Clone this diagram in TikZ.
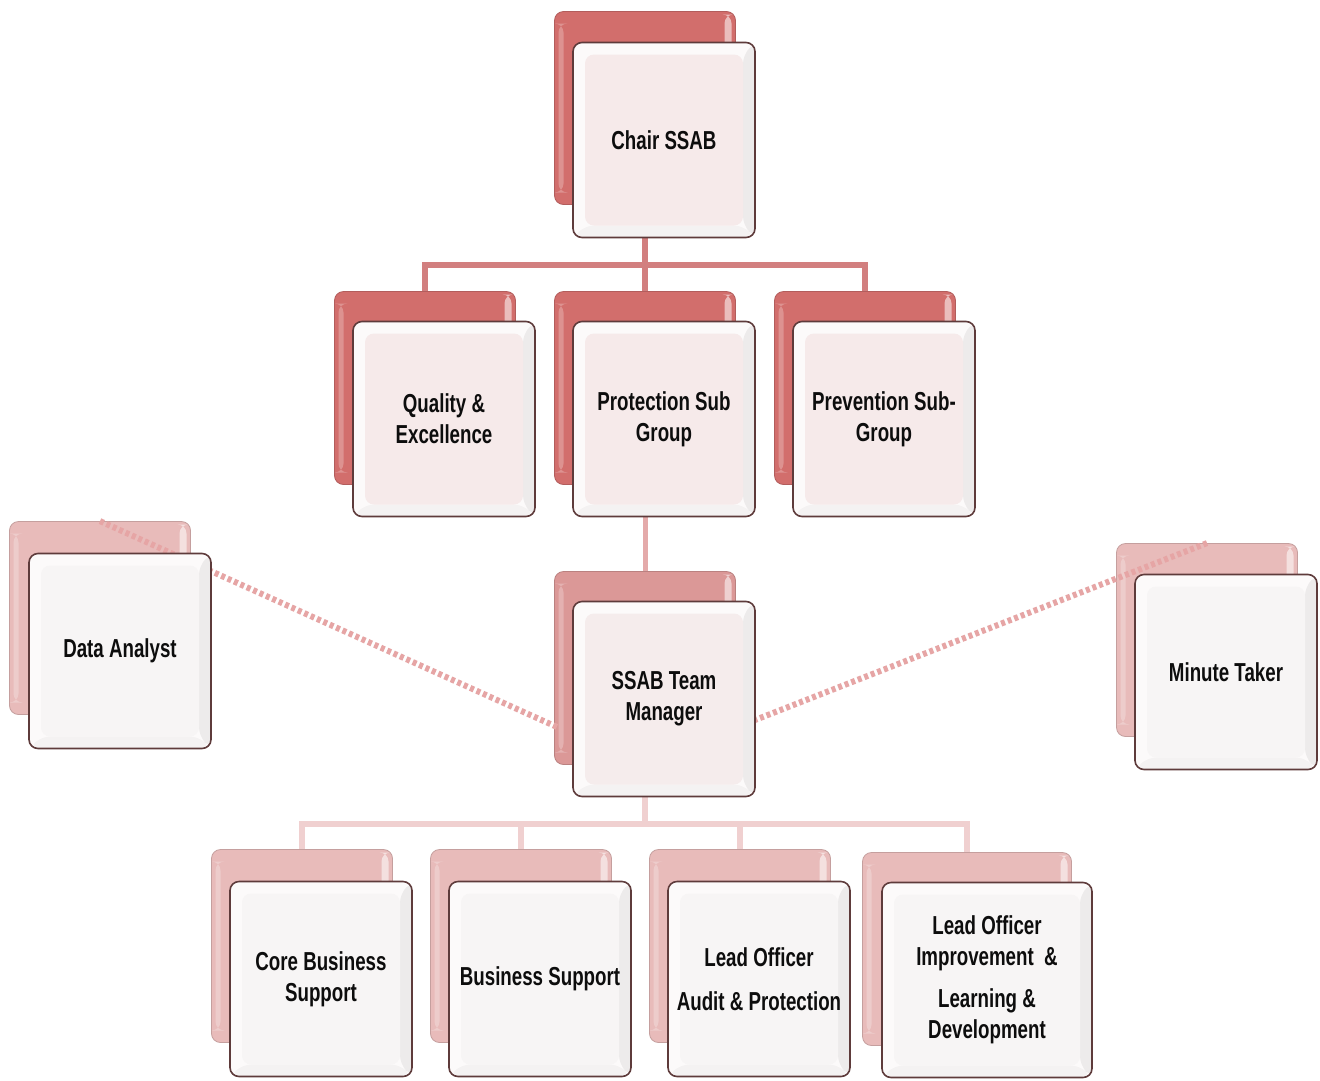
\documentclass[tikz,border=0pt]{standalone}
\usepackage{fontspec}
\setmainfont{Liberation Sans}[FakeStretch=0.72]
\usetikzlibrary{calc}
\definecolor{topB}{HTML}{D26E6C}
\definecolor{midB}{HTML}{DB9897}
\definecolor{paleB}{HTML}{E8BBBA}
\definecolor{faceTop}{HTML}{F6EAEA}
\definecolor{faceMid}{HTML}{F5ECEC}
\definecolor{faceLow}{HTML}{F7F5F5}
\definecolor{rimC}{HTML}{FCFAFA}
\definecolor{frontBorder}{HTML}{5E3B3B}
\definecolor{connA}{HTML}{D27F7F}
\definecolor{connB}{HTML}{E4AAAA}
\definecolor{connC}{HTML}{F0D0D0}
\definecolor{dotC}{HTML}{E6A5A5}
\begin{document}
\begin{tikzpicture}[x=1pt,y=-1pt,
  backbox/.style={rounded corners=9pt, minimum width=181pt, minimum height=193pt,
    draw=#1!85!black, line width=0.8pt, fill=#1, inner sep=0pt,
    path picture={
      \fill[white,opacity=0.55] ([shift={(-11,3)}]path picture bounding box.north east) rectangle ([shift={(-4,40)}]path picture bounding box.north east);
      \fill[white,opacity=0.25] ([shift={(4,12)}]path picture bounding box.north west) rectangle ([shift={(9,-12)}]path picture bounding box.south west);
    }},
  frontbox/.style={rounded corners=9pt, minimum width=182pt, minimum height=195pt,
    draw=frontBorder, line width=1.6pt, fill=rimC, align=center, inner sep=2pt,
    font=\fontsize{26}{31}\selectfont\bfseries, text=black!95,
    path picture={
      \fill[black,opacity=0.06] (path picture bounding box.north east) -- ([shift={(-12,12)}]path picture bounding box.north east) -- ([shift={(-12,-12)}]path picture bounding box.south east) -- (path picture bounding box.south east) -- cycle;
      \fill[black,opacity=0.03] (path picture bounding box.south west) -- ([shift={(12,-12)}]path picture bounding box.south west) -- ([shift={(-12,-12)}]path picture bounding box.south east) -- (path picture bounding box.south east) -- cycle;
      \fill[#1] ([shift={(12,12)}]path picture bounding box.north west) rectangle ([shift={(-12,-12)}]path picture bounding box.south east);
    }},
  connone/.style={draw=connA, line width=6pt},
  conntwo/.style={draw=connB, line width=5pt},
  connthree/.style={draw=connC, line width=6pt},
  dotline/.style={draw=dotC, line width=6pt, dash pattern=on 4pt off 3pt}
]
\useasboundingbox (0,0) rectangle (1320,1080);
\fill[white] (0,0) rectangle (1320,1080);

% back boxes
\node[backbox=topB] (chairB) at (645,108) {};
\node[backbox=topB] (qualB) at (425,388) {};
\node[backbox=topB] (protB) at (645,388) {};
\node[backbox=topB] (prevB) at (865,388) {};
\node[backbox=midB] (teamB) at (645,668) {};
\node[backbox=paleB] (dataB) at (100,618) {};
\node[backbox=paleB] (minB) at (1207,640) {};
\node[backbox=paleB] (coreB) at (302,946) {};
\node[backbox=paleB] (busB) at (521,946) {};
\node[backbox=paleB] (audB) at (740,946) {};
\node[backbox=paleB, minimum width=209pt] (impB) at (967,949) {};

% connectors
\draw[connone] (chairB.south) -- (protB.north);
\draw[connone] (chairB.south) -- (chairB.south |- 0,265) -| (qualB.north);
\draw[connone] (chairB.south) -- (chairB.south |- 0,265) -| (prevB.north);
\draw[conntwo] (protB.south) -- (teamB.north);
\draw[connthree] (teamB.south) -- (teamB.south |- 0,824) -| (coreB.north);
\draw[connthree] (teamB.south) -- (teamB.south |- 0,824) -| (busB.north);
\draw[connthree] (teamB.south) -- (teamB.south |- 0,824) -| (audB.north);
\draw[connthree] (teamB.south) -- (teamB.south |- 0,824) -| (impB.north);

% dotted links
\coordinate (tmL) at (557,727);
\coordinate (tmR) at (755,720);
\draw[dotline] (dataB.north) -- (tmL);
\draw[dotline] (minB.north) -- (tmR);

% front boxes
\node[frontbox=faceTop] (chair) at (664,140) {Chair SSAB};
\node[frontbox=faceTop] (qual) at (444,419) {Quality \&\\Excellence};
\node[frontbox=faceTop] (prot) at (664,419) {Protection Sub\\Group};
\node[frontbox=faceTop] (prev) at (884,419) {Prevention Sub-\\Group};
\node[frontbox=faceMid] (team) at (664,699) {SSAB Team\\Manager};
\node[frontbox=faceLow] (data) at (120,651) {Data Analyst};
\node[frontbox=faceLow] (mint) at (1226,672) {Minute Taker};
\node[frontbox=faceLow] (core) at (321,979) {Core Business\\Support};
\node[frontbox=faceLow] (bus) at (540,979) {Business Support};
\node[frontbox=faceLow] (aud) at (759,979) {Lead Officer\\[13pt]Audit \& Protection};
\node[frontbox=faceLow, minimum width=210pt] (imp) at (987,980) {Lead Officer\\Improvement\ \ \&\\[11pt]Learning \&\\Development};
\end{tikzpicture}
\end{document}
